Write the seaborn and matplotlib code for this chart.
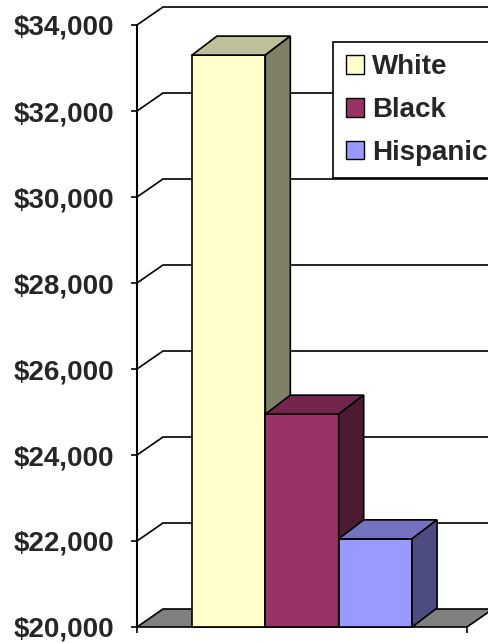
import numpy as np
import pandas as pd
import matplotlib
matplotlib.use("Agg")
import matplotlib.pyplot as plt
from matplotlib.patches import Polygon, Patch
from matplotlib.lines import Line2D
import seaborn as sns

# ---- data ----
groups = ["White", "Black", "Hispanic"]
incomes = [33300, 24950, 22050]
category = ["All", "All", "All"]
front_colors = ["#FFFFCC", "#993366", "#9999FF"]
top_colors = ["#BFBF99", "#73264D", "#7373BF"]
side_colors = ["#808066", "#4D1A33", "#4D4D80"]
y_ticks = [20000, 22000, 24000, 26000, 28000, 30000, 32000, 34000]
y_tick_labels = ["$20,000", "$22,000", "$24,000", "$26,000",
                 "$28,000", "$30,000", "$32,000", "$34,000"]

df = pd.DataFrame({"category": category, "race": groups, "income": incomes})

sns.set_style("white")
plt.rcParams["font.family"] = ["Liberation Sans", "DejaVu Sans"]
plt.rcParams["font.weight"] = "bold"

W, H, DPI = 4.88, 6.43, 100
fig = plt.figure(figsize=(W, H), dpi=DPI)
fig.patch.set_facecolor("white")
ax_l, ax_b, ax_w, ax_h = 137 / 488, 16 / 643, 330 / 488, 602 / 643
ax = fig.add_axes([ax_l, ax_b, ax_w, ax_h])
ax.set_facecolor("none")

ymin, ymax = y_ticks[0], y_ticks[-1]
ax.set_xlim(-0.5, 0.5)
ax.set_ylim(ymin, ymax)

# pixel -> data conversions
px_per_x = ax_w * W * DPI / 1.0
px_per_y = ax_h * H * DPI / (ymax - ymin)
def off(dx_px, dy_px):
    return dx_px / px_per_x, dy_px / px_per_y

gdx, gdy = off(26, 18)   # wall / floor depth
bdx, bdy = off(25, 19)   # bar depth

LW = 1.2

# floor
floor = Polygon([(-0.5, ymin), (0.5, ymin), (0.5 + gdx, ymin + gdy), (-0.5 + gdx, ymin + gdy)],
                closed=True, facecolor="#808080", edgecolor="black", linewidth=LW,
                clip_on=False, zorder=2)
ax.add_patch(floor)

# gridlines on the side wall and back wall
for v in y_ticks[1:]:
    ax.add_line(Line2D([-0.5, -0.5 + gdx, 0.5 + gdx + 0.2], [v, v + gdy, v + gdy],
                       color="black", linewidth=LW, clip_on=False, zorder=1))

# bars
sns.barplot(data=df, x="category", y="income", hue="race", hue_order=groups,
            palette=front_colors, saturation=1, width=0.667, gap=0,
            edgecolor="black", linewidth=LW, legend=False, ax=ax)
ax.set_xlim(-0.5, 0.5)
ax.set_ylim(ymin, ymax)

bars = [p for p in ax.patches if p is not floor]
bars = sorted(bars, key=lambda p: p.get_x())
for i, p in enumerate(bars):
    x, w, v = p.get_x(), p.get_width(), p.get_y() + p.get_height()
    p.set_y(ymin)
    p.set_height(v - ymin)
    p.set_clip_on(False)
    p.set_zorder(10 + 3 * i)
    top = Polygon([(x, v), (x + w, v), (x + w + bdx, v + bdy), (x + bdx, v + bdy)],
                  closed=True, facecolor=top_colors[i], edgecolor="black",
                  linewidth=LW, clip_on=False, zorder=11 + 3 * i)
    side = Polygon([(x + w, ymin), (x + w + bdx, ymin + bdy), (x + w + bdx, v + bdy), (x + w, v)],
                   closed=True, facecolor=side_colors[i], edgecolor="black",
                   linewidth=LW, clip_on=False, zorder=11 + 3 * i)
    ax.add_patch(top)
    ax.add_patch(side)

# axes styling
for s in ["top", "right", "bottom"]:
    ax.spines[s].set_visible(False)
ax.spines["left"].set_visible(True)
ax.spines["left"].set_color("black")
ax.spines["left"].set_linewidth(1.5)
ax.spines["left"].set_zorder(5)
ax.set_yticks(y_ticks)
ax.set_yticklabels(y_tick_labels, fontsize=20, fontweight="bold")
ax.set_xticks([-0.5, 0.5])
ax.set_xticklabels(["", ""])
ax.tick_params(axis="y", direction="out", length=4.5, width=LW, pad=12, color="black", left=True)
ax.tick_params(axis="x", direction="out", length=4.5, width=LW, color="black", bottom=True)
ax.set_xlabel("")
ax.set_ylabel("")

# legend
handles = [Patch(facecolor=c, edgecolor="black", linewidth=1.0) for c in front_colors]
leg_top = 1 - 42 / 643
leg_h = 132 / 643
leg = fig.legend(handles, groups, loc="upper left", mode="expand",
                 bbox_to_anchor=(333 / 488, leg_top - leg_h, 170 / 488, leg_h),
                 borderaxespad=0,
                 frameon=True, fancybox=False, shadow=False, framealpha=1,
                 edgecolor="black", handlelength=0.65, handleheight=0.65,
                 handletextpad=0.3, labelspacing=0.6, borderpad=0.45,
                 prop={"weight": "bold", "size": 20})
leg.get_frame().set_linewidth(LW)
leg.set_zorder(50)

fig.savefig("out.png", dpi=DPI, facecolor="white")
